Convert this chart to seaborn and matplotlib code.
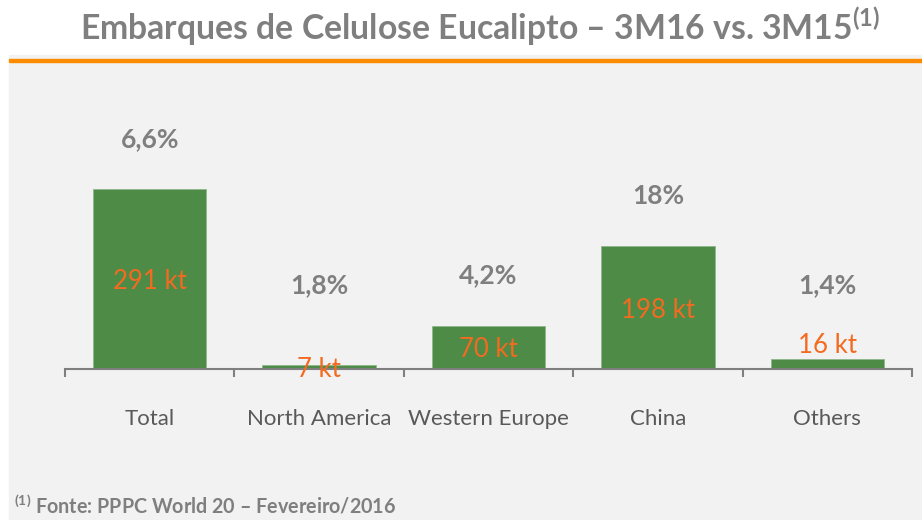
import numpy as np
import pandas as pd
import matplotlib
matplotlib.use("Agg")
import matplotlib.pyplot as plt
import seaborn as sns

# chart data
regions = ["Total", "North America", "Western Europe", "China", "Others"]
volumes_kt = [291, 7, 70, 198, 16]
growth_labels = ["6,6%", "1,8%", "4,2%", "18%", "1,4%"]
volume_labels = ["291 kt", "7 kt", "70 kt", "198 kt", "16 kt"]

GREEN = "#4e8b47"
ORANGE = "#f26b21"
GRAY = "#7f7f7f"
DARKGRAY = "#595959"
BG = "#f2f2f2"

sns.set_style("white")
plt.rcParams["font.family"] = ["Lato", "DejaVu Sans"]
plt.rcParams["mathtext.fontset"] = "custom"
plt.rcParams["mathtext.rm"] = "Lato"
plt.rcParams["mathtext.bf"] = "Lato:bold"

df = pd.DataFrame({"region": regions, "kt": volumes_kt})

fig = plt.figure(figsize=(9.22, 5.2), dpi=100)
# gray panel + orange rule under title
fig.patches.append(plt.Rectangle((9/922, 0), 1, 1 - 55/520, transform=fig.transFigure,
                                 color=BG, zorder=-2))
fig.patches.append(plt.Rectangle((9/922, 1 - 62/520), 1, 3/520, transform=fig.transFigure,
                                 color="#ff8c00", zorder=-1))

ax = fig.add_axes([65/922, 1 - 369/520, (912-65)/922, (369-70)/520])
ax.set_zorder(2)
ax.patch.set_alpha(0)
sns.barplot(data=df, x="region", y="kt", color=GREEN, width=0.67, saturation=1,
            edgecolor="#8fb88a", linewidth=0.6, ax=ax)
ax.set_ylim(0, 483)
ax.set_xlim(-0.5, 4.5)

for i, (v, g, lab) in enumerate(zip(volumes_kt, growth_labels, volume_labels)):
    if lab == "16 kt":
        ax.text(i, v + 22, lab, ha="center", va="center", color=ORANGE, fontsize=18.5)
    else:
        ax.text(i, v / 2 - 4, lab, ha="center", va="center", color=ORANGE, fontsize=18.5)
    ax.text(i, max(v + 81, 136), g, ha="center", va="center", color=GRAY,
            fontsize=19, fontweight="bold")

sns.despine(ax=ax, left=True, top=True, right=True)
ax.spines["bottom"].set_color(GRAY)
ax.spines["bottom"].set_linewidth(1.5)
ax.set_yticks([])
ax.set_xlabel("")
ax.set_ylabel("")
ax.set_xticks(np.arange(-0.5, 5, 1), minor=True)
ax.tick_params(axis="x", which="minor", bottom=True, length=6, width=1.5, color=GRAY,
               direction="out")
ax.tick_params(axis="x", which="major", bottom=True, length=0, pad=29, labelsize=16,
               labelcolor=DARKGRAY)

fig.text(0.521, 1 - 27/520, r"Embarques de Celulose Eucalipto – 3M16 vs. 3M15$^{\mathbf{(1)}}$",
         ha="center", va="center", color=GRAY, fontsize=24.3, fontweight="bold")
fig.text(14/922, 1 - 506/520, r"$^{\mathbf{(1)}}$ Fonte: PPPC World 20 – Fevereiro/2016",
         ha="left", va="center", color=GRAY, fontsize=14.2, fontweight="bold")

fig.savefig("out.png", dpi=100)
